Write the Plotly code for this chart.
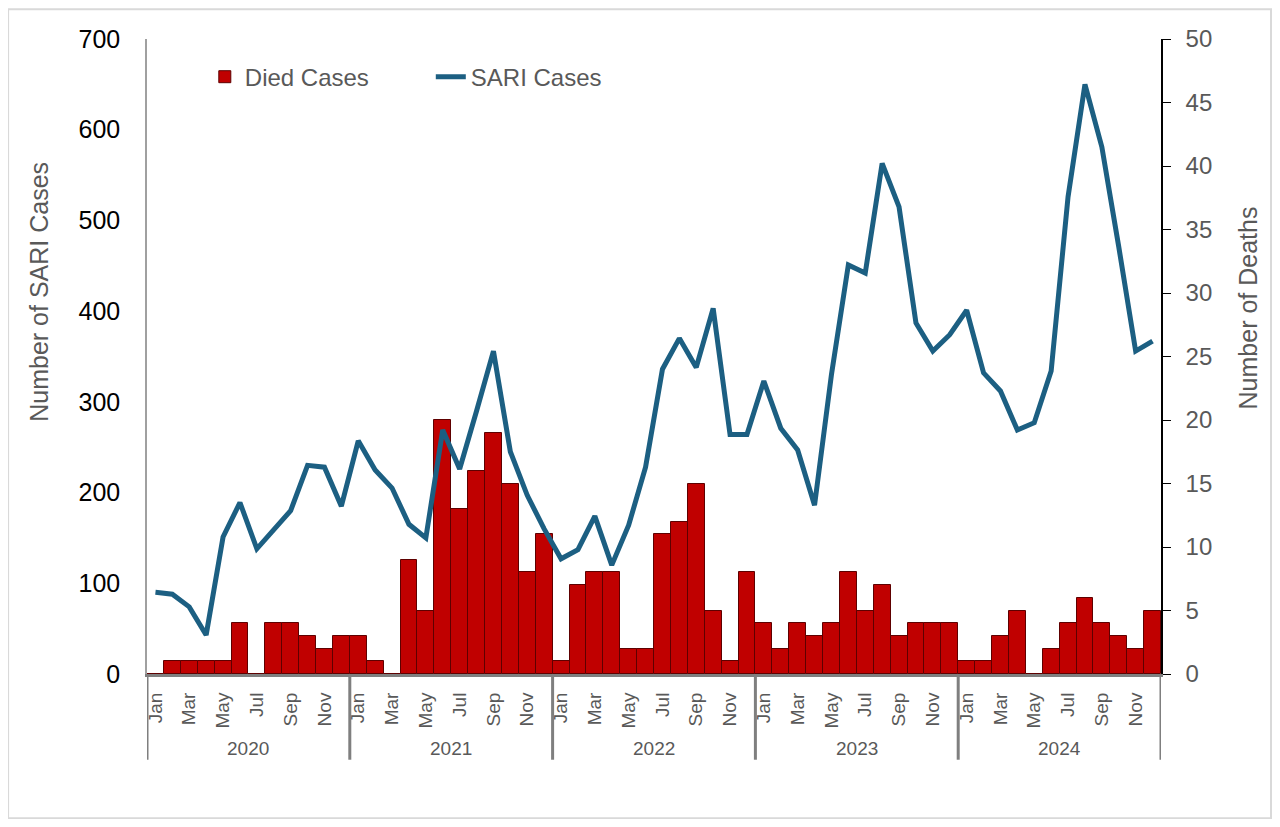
import plotly.graph_objects as go

# monthly data, Jan 2020 .. Dec 2024
years = ["2020", "2021", "2022", "2023", "2024"]
month_names = ["Jan", "Feb", "Mar", "Apr", "May", "Jun",
               "Jul", "Aug", "Sep", "Oct", "Nov", "Dec"]

died_cases = [0, 1, 1, 1, 1, 4, 0, 4, 4, 3, 2, 3,
              3, 1, 0, 9, 5, 20, 13, 16, 19, 15, 8, 11,
              1, 7, 8, 8, 2, 2, 11, 12, 15, 5, 1, 8,
              4, 2, 4, 3, 4, 8, 5, 7, 3, 4, 4, 4,
              1, 1, 3, 5, 0, 2, 4, 6, 4, 3, 2, 5]

sari_cases = [90, 88, 74, 43, 151, 189, 138, 159, 180, 230, 228, 185,
              257, 225, 205, 165, 150, 269, 226, 290, 356, 245, 197, 160,
              127, 137, 174, 120, 164, 228, 336, 370, 338, 403, 264, 264,
              323, 271, 247, 186, 330, 451, 442, 563, 515, 387, 356, 374,
              401, 332, 312, 269, 277, 334, 526, 650, 581, 471, 356, 367]

n = len(sari_cases)
x = list(range(n))
tick_idx = x[::2]
tick_txt = [month_names[i % 12] for i in tick_idx]

grey = "#595959"
font = "Arial, Liberation Sans, sans-serif"

fig = go.Figure()
fig.add_trace(go.Bar(x=x, y=died_cases, name="Died Cases", yaxis="y",
                     marker=dict(color="#c00000", line=dict(color="#5e0000", width=1))))
fig.add_trace(go.Scatter(x=x, y=sari_cases, name="SARI Cases", yaxis="y2", mode="lines",
                         line=dict(color="#1c5f82", width=5)))

# year separators and labels below the month labels
shapes = []
annotations = []
for k, yr in enumerate(years + [None]):
    shapes.append(dict(type="line", xref="x", yref="paper", x0=12 * k - 0.5, x1=12 * k - 0.5,
                       y0=0, y1=-0.135, line=dict(color="#7f7f7f", width=3)))
    if yr:
        annotations.append(dict(text=yr, xref="x", yref="paper", x=12 * k + 5.5, y=-0.118,
                                showarrow=False, yanchor="middle",
                                font=dict(size=19, color=grey)))

# outer frame
shapes.append(dict(type="rect", xref="paper", yref="paper", x0=-0.137, x1=1.1085,
                   y0=-0.227, y1=1.047, line=dict(color="#d9d9d9", width=2)))

annotations.append(dict(text="Number of SARI Cases", xref="paper", yref="paper", x=-0.1065, y=0.602,
                        xanchor="center", yanchor="middle",
                        textangle=-90, showarrow=False, font=dict(size=25, color=grey)))
annotations.append(dict(text="Number of Deaths", xref="paper", yref="paper", x=1.086, y=0.576,
                        xanchor="center", yanchor="middle",
                        textangle=-90, showarrow=False, font=dict(size=25, color=grey)))

fig.update_layout(
    font=dict(family=font),
    plot_bgcolor="white",
    paper_bgcolor="white",
    margin=dict(l=139, r=111, t=31, b=145),
    bargap=0,
    shapes=shapes,
    annotations=annotations,
    legend=dict(orientation="h", x=0.057, y=0.94, yanchor="middle", xanchor="left",
                font=dict(size=24, color=grey), bgcolor="rgba(0,0,0,0)",
                entrywidth=181, entrywidthmode="pixels"),
    xaxis=dict(range=[-0.5, n - 0.5], tickvals=tick_idx, ticktext=tick_txt, tickangle=-90,
               tickfont=dict(size=19, color=grey), showline=True, linecolor="#7f7f7f",
               linewidth=3, ticks="", showgrid=False, zeroline=False, ticklabelstandoff=8),
    yaxis=dict(side="right", range=[0, 50], dtick=5, showline=True, linecolor="black",
               linewidth=1.5, ticks="outside", ticklen=8, tickcolor="black",
               tickfont=dict(size=24, color=grey), showgrid=False, zeroline=False,
               ticklabelstandoff=10),
    yaxis2=dict(overlaying="y", side="left", range=[0, 700], dtick=100, showline=True,
                linecolor="#a0a0a0", linewidth=1.5, ticks="", tickfont=dict(size=25, color="black"),
                showgrid=False, zeroline=False, ticklabelstandoff=20),
)

fig.write_html("out.html")
